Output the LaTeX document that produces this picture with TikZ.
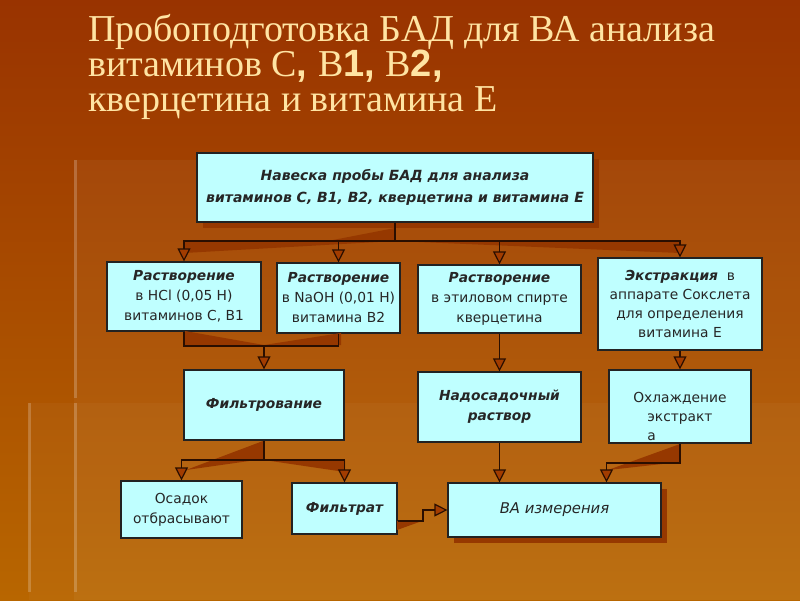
\documentclass[tikz,border=0pt]{standalone}
\usepackage{fontspec}
\usepackage{tikz}
\usetikzlibrary{arrows.meta, positioning, calc, shadows}
\setmainfont{DejaVu Sans}[BoldFont={DejaVu Sans Bold}, ItalicFont={DejaVu Sans Oblique}, BoldItalicFont={DejaVu Sans Bold Oblique}]
\newfontfamily\titleserif{Liberation Serif}
\newfontfamily\titlesans{Liberation Sans}
\newcommand{\bi}[1]{{\bfseries\itshape #1}}
\definecolor{bgtop}{HTML}{993300}
\definecolor{bgbot}{HTML}{B86600}
\definecolor{titlecol}{HTML}{FFE4A3}
\definecolor{boxfill}{HTML}{BFFFFF}
\definecolor{boxline}{HTML}{222222}
\definecolor{conline}{HTML}{2A0E00}
\definecolor{arrfill}{HTML}{A23C00}
\definecolor{shadowcol}{HTML}{963800}
\begin{document}
\begin{tikzpicture}[x=1pt, y=-1pt,
    box/.style={draw=boxline, fill=boxfill, line width=1.2pt, inner sep=0pt, align=center,
        text=black!85, font=\fontsize{13.8}{20}\selectfont},
    boxshadow/.style={drop shadow={shadow xshift=6pt, shadow yshift=-6pt, fill=shadowcol, opacity=1}},
    con/.style={draw=conline, line width=1.8pt},
    arr/.style={con, -{Triangle[length=13pt, width=13pt, fill=arrfill, line width=1.2pt]}},
    conshade/.style={fill=shadowcol}]
    % Background
    \fill[top color=bgtop, bottom color=bgbot] (0,0) rectangle (800,600);
    \useasboundingbox (0,0) rectangle (800,600);
    \fill[white, opacity=0.04] (74,160) rectangle (800,600);
    \fill[white, opacity=0.03] (29,403) rectangle (800,600);
    \draw[white, opacity=0.2, line width=3pt] (75,160) -- (75,398);
    \draw[white, opacity=0.2, line width=3pt] (75,403) -- (75,592);
    \draw[white, opacity=0.2, line width=3pt] (29,403) -- (29,592);

    % Title
    \node[anchor=north west, align=left, inner sep=0pt, text=titlecol,
        font=\titleserif\fontsize{38}{35}\selectfont] (title) at (88,14)
        {Пробоподготовка БАД для ВА анализа\\
         витаминов С{\titlesans\bfseries, }В{\titlesans\bfseries 1, }В{\titlesans\bfseries 2,}\\
         кверцетина и витамина Е};

    % Boxes
    \node[box, boxshadow, minimum width=396pt, minimum height=69pt,
        font=\fontsize{14}{22}\selectfont\bfseries\itshape] (navesk) at (395,187.5)
        {Навеска пробы БАД для анализа\\витаминов С, В1, В2, кверцетина и витамина Е};
    \node[box, minimum width=154pt, minimum height=69pt] (rastvC) at (184,296.5)
        {\bi{Растворение}\\в HCl (0,05 Н)\\витаминов С, В1};
    \node[box, minimum width=123pt, minimum height=70pt] (rastvB) at (338.5,298)
        {\bi{Растворение}\\в NaOH (0,01 Н)\\витамина В2};
    \node[box, minimum width=163pt, minimum height=68pt] (rastvQ) at (499.5,299)
        {\bi{Растворение}\\в этиловом спирте\\кверцетина};
    \node[box, minimum width=164pt, minimum height=92pt, font=\fontsize{13.8}{19}\selectfont] (ekstr) at (680,304)
        {\bi{Экстракция}\ \ в\\аппарате Сокслета\\для определения\\витамина Е};
    \node[box, minimum width=160pt, minimum height=70pt] (filtr) at (264,405) {\bi{Фильтрование}};
    \node[box, minimum width=163pt, minimum height=70pt] (nados) at (499.5,407)
        {\bi{Надосадочный}\\\bi{раствор}};
    \node[box, minimum width=142pt, minimum height=73pt,
        label={[align=left, yshift=-10pt, text=black!85, font=\fontsize{13.8}{19}\selectfont]center:
        Охлаждение\\\hspace*{14pt}экстракт\\\hspace*{14pt}а}] (ohlazh) at (680,406.5) {};
    \node[box, minimum width=121pt, minimum height=57pt] (osadok) at (181.5,509.5) {Осадок\\отбрасывают};
    \node[box, minimum width=105pt, minimum height=51pt] (filtrat) at (344.5,508.5) {\bi{Фильтрат}};
    \node[box, boxshadow, minimum width=213pt, minimum height=54pt,
        font=\fontsize{14.8}{20}\selectfont\itshape] (izmer) at (554.5,510) {ВА измерения};

    % Connector shades
    \fill[conshade] (333,240) -- (395,228) -- (395,240) -- cycle;
    \fill[conshade] (395,241) -- (184,241) -- (184,253) -- cycle;
    \fill[conshade] (395,241) -- (680,241) -- (680,253) -- cycle;
    \fill[conshade] (185,331) -- (185,345) -- (264,345) -- cycle;
    \fill[conshade] (341,333) -- (341,345) -- (264,345) -- cycle;
    \fill[conshade] (263,441) -- (263,459) -- (186,470) -- cycle;
    \fill[conshade] (264,460) -- (345,460) -- (345,472) -- cycle;
    \fill[conshade] (680,444) -- (680,462) -- (608,470) -- cycle;
    \fill[conshade] (397,530) -- (422,521) -- (397,521) -- cycle;

    % Connectors
    \coordinate (hub) at ($(navesk.south)+(0,18)$);
    \draw[con] (navesk.south) -- (hub);
    \draw[arr] (hub) -| (rastvC.north);
    \draw[arr] (hub) -| (rastvB.north);
    \draw[arr] (hub) -| (rastvQ.north);
    \draw[arr] (hub) -| (ekstr.north);

    \coordinate (mrg) at (264,346);
    \draw[con] (rastvC.south) |- (mrg);
    \draw[con] (rastvB.south) |- (mrg);
    \draw[arr] (mrg) -- (filtr.north);

    \draw[arr] (rastvQ.south) -- (nados.north);
    \draw[arr] (ekstr.south) -- (ohlazh.north);

    \coordinate (spl) at ($(filtr.south)+(0,19)$);
    \draw[con] (filtr.south) -- (spl);
    \draw[arr] (spl) -| (osadok.north);
    \draw[arr] (spl) -| (filtrat.north);

    \draw[arr] (nados.south) -- (nados.south |- izmer.north);
    \draw[arr] (ohlazh.south) -- ++(0,19) -| ([xshift=52pt]izmer.north);
    \draw[arr] ([yshift=-12.5pt]filtrat.east) -- ++(25,0) |- (izmer.west);
\end{tikzpicture}
\end{document}
